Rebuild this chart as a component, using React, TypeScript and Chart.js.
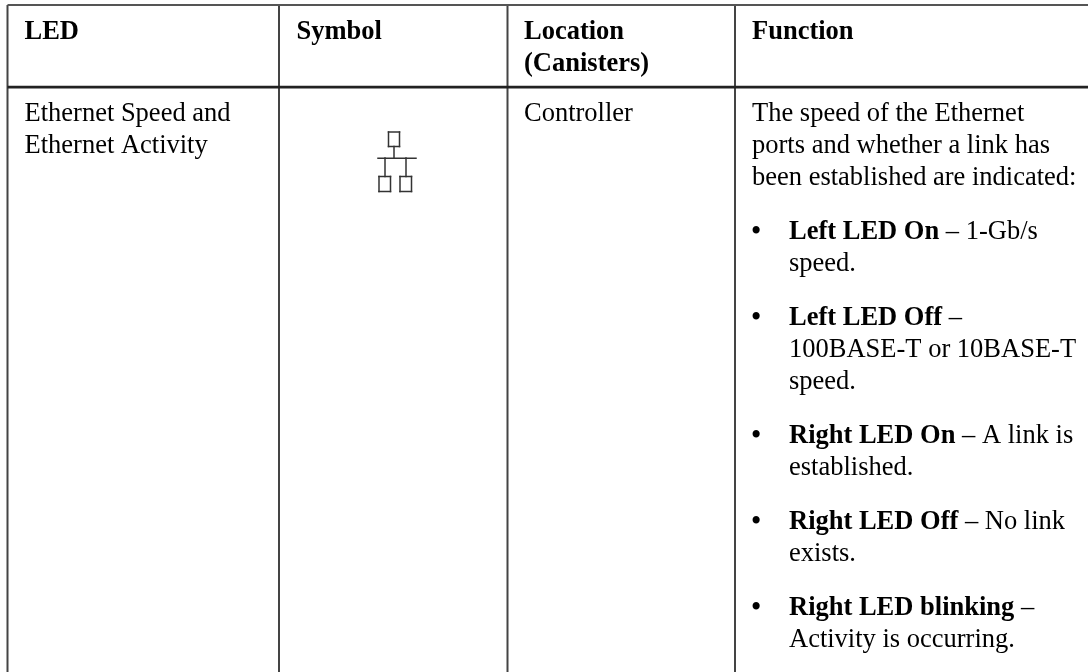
import React, { useEffect, useRef } from "react";
import { Chart, registerables } from "chart.js";

Chart.register(...registerables);

// Table rule positions
const columnRules = [7.5, 279, 507.5, 735];
const topRule = 5;
const headerRule = 87.2;
const rightEdge = 1088;
const bottomEdge = 672;

// Cell text
const headers = [["LED"], ["Symbol"], ["Location", "(Canisters)"], ["Function"]];
const ledCell = ["Ethernet Speed and", "Ethernet Activity"];
const locationCell = ["Controller"];
const functionIntro = ["The speed of the Ethernet", "ports and whether a link has", "been established are indicated:"];
const bulletBold = ["Left LED On", "Left LED Off", "Right LED On", "Right LED Off", "Right LED blinking"];
const bulletFirst = [" – 1-Gb/s", " –", " – A link is", " – No link", " –"];
const bulletRest = [["speed."], ["100BASE-T or 10BASE-T", "speed."], ["established."], ["exists."], ["Activity is occurring."]];

// Network icon segments [x1, y1, x2, y2]
const iconSegments = [
  [388.5, 132, 399.5, 132], [399.5, 132, 399.5, 146.5], [399.5, 146.5, 388.5, 146.5], [388.5, 146.5, 388.5, 132],
  [394, 146.5, 394, 158],
  [378, 158.3, 416, 158.3],
  [385, 158, 385, 176.5], [406, 158, 406, 176.5],
  [379, 176.5, 390.5, 176.5], [379, 176.5, 379, 191.5], [390.5, 176.5, 390.5, 191.5], [379, 191.5, 390.5, 191.5],
  [400, 176.5, 411.5, 176.5], [400, 176.5, 400, 191.5], [411.5, 176.5, 411.5, 191.5], [400, 191.5, 411.5, 191.5],
];

const FONT = '"Liberation Serif"';
const SIZE = 26.5;
const LINE = 32;

function rule(x1: number, y1: number, x2: number, y2: number, width: number, color: string, cap: "butt" | "square" = "butt") {
  return {
    data: [{ x: x1, y: y1 }, { x: x2, y: y2 }],
    borderColor: color,
    borderWidth: width,
    pointRadius: 0,
    showLine: true,
    borderCapStyle: cap,
  };
}

const tablePlugin = {
  id: "tableText",
  afterDatasetsDraw(chart: any) {
    const { ctx, scales } = chart;
    const X = (v: number) => scales.x.getPixelForValue(v);
    const Y = (v: number) => scales.y.getPixelForValue(v);
    const text = (s: string, x: number, y: number, bold = false) => {
      ctx.font = `${bold ? "bold " : ""}${SIZE}px ${FONT}`;
      ctx.fillText(s, X(x), Y(y));
      return ctx.measureText(s).width;
    };
    ctx.save();
    ctx.fillStyle = "#000";
    ctx.textBaseline = "alphabetic";
    const cols = [24.5, 296.5, 524, 752];
    headers.forEach((h, i) => h.forEach((s, j) => text(s, cols[i], 39 + j * LINE, true)));
    ledCell.forEach((s, j) => text(s, cols[0], 121 + j * LINE));
    locationCell.forEach((s, j) => text(s, cols[2], 121 + j * LINE));
    functionIntro.forEach((s, j) => text(s, cols[3], 121 + j * LINE));
    let y = 238.5;
    const gap = 54;
    bulletBold.forEach((b, i) => {
      text("•", 751.5, y, true);
      const w = text(b, 789, y, true);
      text(bulletFirst[i], 789 + w, y);
      bulletRest[i].forEach((s, j) => text(s, 789, y + (j + 1) * LINE));
      y += LINE * bulletRest[i].length + gap;
    });
    ctx.restore();
  },
};

export default function App() {
  const ref = useRef<HTMLCanvasElement>(null);
  useEffect(() => {
    const grey = "#444";
    const datasets: any[] = [
      rule(columnRules[0], topRule, rightEdge, topRule, 2, "#555"),
      rule(columnRules[0], headerRule, rightEdge, headerRule, 2.8, "#222"),
      ...columnRules.map((x) => rule(x, topRule, x, bottomEdge, 2, grey)),
      ...iconSegments.map(([a, b, c, d]) => rule(a, b, c, d, 1.5, "#333", "square")),
    ];
    const chart = new Chart(ref.current!, {
      type: "scatter",
      data: { datasets },
      options: {
        animation: false,
        responsive: false,
        layout: { padding: 0 },
        plugins: { legend: { display: false }, tooltip: { enabled: false } },
        scales: {
          x: { type: "linear", display: false, min: 0, max: 1088 },
          y: { type: "linear", display: false, min: 0, max: 672, reverse: true },
        },
      },
      plugins: [tablePlugin],
    });
    return () => chart.destroy();
  }, []);
  return (
    <canvas
      ref={ref}
      width={1088}
      height={672}
      style={{ position: "fixed", left: 0, top: 0, width: 1088, height: 672, background: "#fff" }}
    />
  );
}
